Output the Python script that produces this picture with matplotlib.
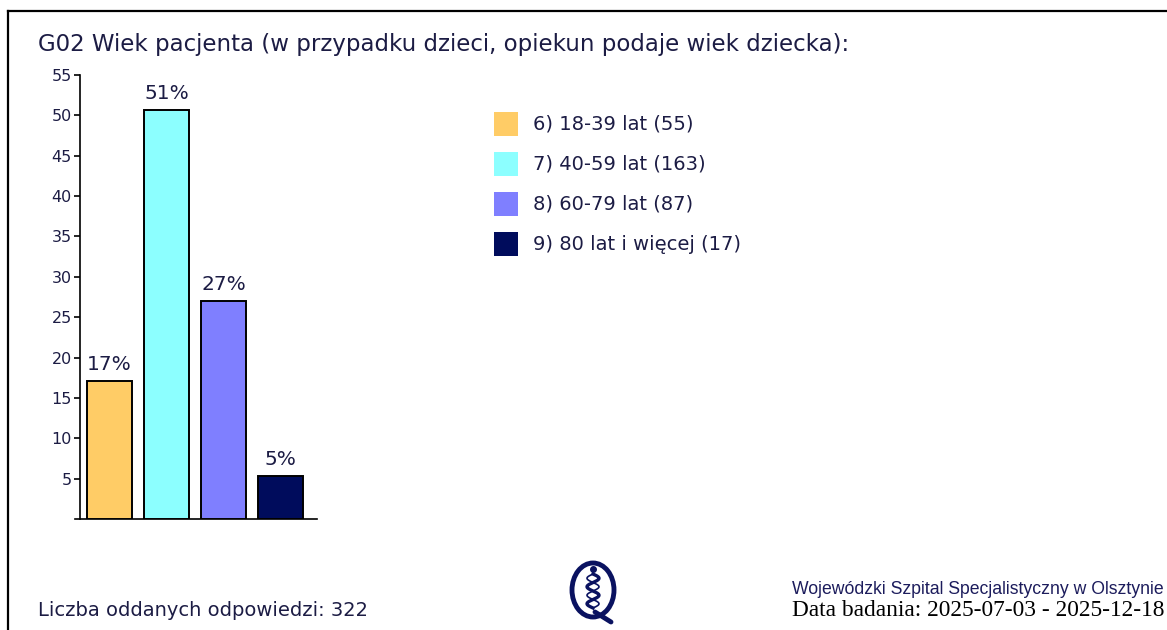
import matplotlib
matplotlib.use("Agg")
import matplotlib.pyplot as plt
from matplotlib.lines import Line2D
from matplotlib.patches import Rectangle, Ellipse
import numpy as np

# ---- data ----
categories = ["6) 18-39 lat", "7) 40-59 lat", "8) 60-79 lat", "9) 80 lat i więcej"]
counts = [55, 163, 87, 17]
colors = ["#ffcc66", "#8cffff", "#7f7fff", "#000c5c"]
yticks = [5, 10, 15, 20, 25, 30, 35, 40, 45, 50, 55]
title = "G02 Wiek pacjenta (w przypadku dzieci, opiekun podaje wiek dziecka):"
footer_left = "Liczba oddanych odpowiedzi: 322"
footer_right1 = "Wojewódzki Szpital Specjalistyczny w Olsztynie"
footer_right2 = "Data badania: 2025-07-03 - 2025-12-18"

total = sum(counts)
percents = [c / total * 100 for c in counts]

W, H = 1167, 630
TXT = "#1c1c44"
plt.rcParams['font.family'] = ['DejaVu Sans']

fig = plt.figure(figsize=(W / 100, H / 100), dpi=100)

def fx(x):
    return x / W

def fy(y):
    return 1 - y / H

# border (left and top)
fig.add_artist(Line2D([fx(8), fx(8)], [fy(11), fy(H + 5)], color="black", lw=1.6))
fig.add_artist(Line2D([fx(8), fx(W + 5)], [fy(11), fy(11)], color="black", lw=1.6))

# title
fig.text(fx(38), fy(44), title, fontsize=16.5, color=TXT, va="center", ha="left")

# main axes
ax_l, ax_r, ax_t, ax_b = 75, 317, 75, 519
ax = fig.add_axes([fx(ax_l), fy(ax_b), fx(ax_r - ax_l), (ax_b - ax_t) / H])
x = np.arange(len(categories))
unit = 57.0
c0 = 109.5
ax.set_xlim((ax_l - c0) / unit, (ax_r - c0) / unit)
ax.set_ylim(0, 55)
ax.bar(x, percents, width=45 / unit, color=colors, edgecolor="black", linewidth=1.4, zorder=3)
for xi, p in zip(x, percents):
    ax.annotate(f"{round(p)}%", (xi, p), xytext=(0, 5), textcoords="offset points",
                ha="center", va="bottom", fontsize=14.5, color=TXT)
ax.spines["top"].set_visible(False)
ax.spines["right"].set_visible(False)
ax.spines["left"].set_position(("data", (80 - c0) / unit))
ax.spines["left"].set_linewidth(1.2)
ax.spines["bottom"].set_linewidth(1.2)
ax.set_xticks([])
ax.set_yticks(yticks)
ax.set_yticklabels([str(t) for t in yticks])
ax.tick_params(axis="y", length=4, width=1.2, labelsize=11.5, labelcolor=TXT, pad=2)
ax.patch.set_visible(False)

# legend
for i, (cat, cnt, col) in enumerate(zip(categories, counts, colors)):
    yc = 124 + i * 40
    fig.add_artist(Rectangle((fx(494), fy(yc + 12)), fx(24), 24 / H, color=col, lw=0))
    fig.text(fx(533), fy(yc), f"{cat} ({cnt})", fontsize=14, color=TXT, va="center", ha="left")

# footer
fig.text(fx(38), fy(611), footer_left, fontsize=14, color=TXT, va="center", ha="left")
fig.text(fx(1164), fy(590), footer_right1, fontsize=12.7, color="#1c1c5c", va="center", ha="right",
         family="Liberation Sans")
fig.text(fx(1164), fy(611), footer_right2, fontsize=16.8, color="black", va="center", ha="right",
         family="Liberation Serif")

# logo
lx, ly, lw_, lh = 565, 560, 60, 66
lax = fig.add_axes([fx(lx), fy(ly + lh), fx(lw_), lh / H])
lax.set_xlim(0, lw_)
lax.set_ylim(lh, 0)
lax.axis("off")
NAVY = "#0a1260"
lax.add_patch(Ellipse((28, 30), 42, 54, fill=False, ec=NAVY, lw=3.5))
lax.plot([30, 46], [52, 62], color=NAVY, lw=3.5, solid_capstyle="round")
t = np.linspace(0, 1, 200)
hy = 14 + t * 34
hx = 28 + 6 * np.sin(t * 4 * np.pi)
lax.plot(hx, hy, color=NAVY, lw=2.4)
lax.plot(28 - 6 * np.sin(t * 4 * np.pi), hy, color=NAVY, lw=1.2)
lax.plot([28], [9], "o", color=NAVY, ms=4)

fig.savefig("out.png", dpi=100)
